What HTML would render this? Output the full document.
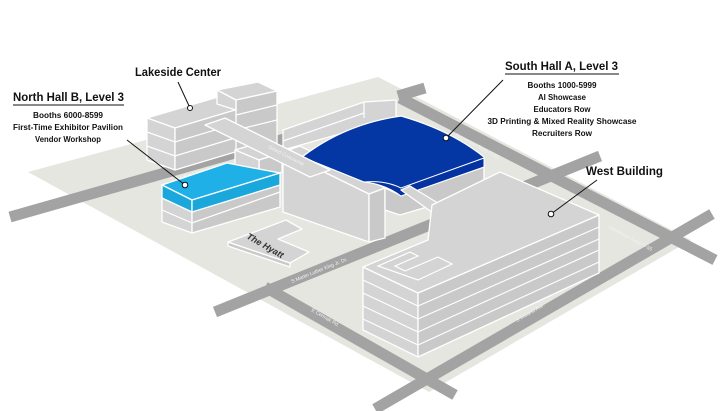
<!DOCTYPE html>
<html><head><meta charset="utf-8"><style>
html,body{margin:0;padding:0;background:#fff;}
svg{display:block;font-family:"Liberation Sans",sans-serif;}
.b{fill:#d4d4d4;stroke:#fff;stroke-width:1.3;stroke-linejoin:round;}
.s{fill:#c9c9c9;stroke:#fff;stroke-width:1.3;stroke-linejoin:round;}
.fl{stroke:#fff;stroke-width:1.2;fill:none;}
.rd{stroke:#a3a3a3;stroke-width:11;fill:none;}
.rl{fill:#f4f4f4;font-size:5px;}
.t{font-weight:bold;fill:#111;}
</style></head><body>
<svg width="720" height="411" viewBox="0 0 720 411">
<!-- ground -->
<polygon points="28,172 378,77 691,240 429,392" fill="#e4e6df"/>
<!-- roads -->
<line class="rd" x1="10" y1="217" x2="330" y2="126"/>
<line class="rd" x1="398" y1="96" x2="425" y2="88"/>
<line class="rd" x1="400" y1="98" x2="715" y2="260"/>
<line class="rd" x1="215" y1="312" x2="600" y2="156"/>
<line class="rd" x1="265" y1="287" x2="455" y2="395"/>
<line class="rd" x1="375" y1="409" x2="712" y2="214"/>
<text class="rl" transform="translate(176,180) rotate(-16)">S Lake Shore Dr.</text>
<text class="rl" transform="translate(455,136) rotate(28)">Stevenson Expy / I-55</text>
<text class="rl" transform="translate(608,228) rotate(28)">Stevenson Expy / I-55</text>
<text class="rl" transform="translate(292,283) rotate(-22)">S Martin Luther  King Jr. Dr.</text>
<text class="rl" transform="translate(311,311) rotate(30)">E Cermak Rd.</text>
<text class="rl" transform="translate(517,322) rotate(-30)">S Indiana Ave.</text>
<!-- Lakeside Center -->
<polygon class="b" points="147,118 218,97 245,107 175,128"/>
<polygon class="b" points="147,118 175,128 175,170 147,160"/>
<polygon class="s" points="175,128 245,107 245,149 175,170"/>
<path class="fl" d="M147,132 L175,142 L245,121 M147,146 L175,156 L245,135"/>
<polygon class="b" points="217,90 258,82 277,91 236,100"/>
<polygon class="s" points="236,100 277,91 277,150 236,160"/>
<polygon class="b" points="217,90 236,100 236,110 217,104"/>
<path class="fl" d="M236,115 L277,105 M236,130 L277,120"/>
<!-- annex -->
<polygon class="b" points="235,150 258,143 282,153 259,160"/>
<polygon class="s" points="259,160 282,153 282,172 259,180"/>
<polygon class="b" points="235,150 259,160 259,180 235,170"/>
<!-- north hall B -->
<polygon class="b" points="162,198 192,212 192,233 162,222"/>
<polygon class="s" points="192,212 280,177 280,207 192,233"/>
<path class="fl" d="M162,210 L192,223 L280,192"/>
<polygon points="162,185 227,163 280,173 192,200" fill="#1eb0e6" stroke="#fff" stroke-width="1.3"/>
<polygon points="162,185 192,200 192,212 162,198" fill="#1aa8dc" stroke="#fff" stroke-width="1.3"/>
<polygon points="192,200 280,173 280,185 192,212" fill="#1aa8dc" stroke="#fff" stroke-width="1.3"/>
<!-- curved wall building -->
<polygon class="b" points="283,130 364,102 396,100 396,118 283,150"/>
<path class="fl" d="M283,141 L364,113 M364,102 L364,118"/>
<!-- tall block -->
<polygon class="b" points="283,152 300,146 385,188 369,194"/>
<polygon class="b" points="283,152 369,194 369,242 283,212"/>
<polygon class="s" points="369,194 385,188 385,238 369,242"/>
<!-- South hall A gray base -->
<polygon class="s" points="385,188 400,195 484,167 484,190 400,215 385,210"/>
<!-- blue -->
<path d="M302,157 Q345,124 401,116 Q450,130 484,157 L484,167 L401,196 Q385,184 364,182 Z" fill="#0537a4" stroke="#fff" stroke-width="1.2"/>
<path d="M364,182 Q385,184 401,196 L484,167 L484,158 L401,188 Q385,180 364,182 Z" fill="#0432a0" stroke="#fff" stroke-width="1"/>
<!-- concourse -->
<polygon class="b" points="205,125 225,118 330,170 310,177"/>
<text class="rl" transform="translate(268,148) rotate(27)">Grand Concourse</text>
<!-- bridge -->
<polygon class="b" points="401,190 410,186 472,224 458,231"/>
<!-- Hyatt -->
<polygon class="s" points="228,242 290,263 290,267 228,246"/>
<polygon class="b" points="228,242 286,220 302,229 278,239 309,252 290,263"/>
<text transform="translate(246,238) rotate(30)" font-size="9" font-style="italic" font-weight="bold" fill="#333">The Hyatt</text>
<!-- West building -->
<polygon class="b" points="363,267 418,293 418,357 363,330"/>
<polygon class="s" points="418,293 599,215 599,273 418,357"/>
<path class="fl" d="M363,280 L418,306 L599,227 M363,293 L418,319 L599,239 M363,306 L418,332 L599,250 M363,319 L418,345 L599,262"/>
<polygon class="b" points="363,267 428,240 432,205 500,172 599,215 418,293"/>
<path class="fl" d="M378,266 L410,252 L418,256 L395,266 L405,271 L438,257 L452,264 L418,280 Z"/>
<!-- leaders -->
<g stroke="#111" stroke-width="1" fill="#fff">
<line x1="178" y1="82" x2="190" y2="108"/>
<line x1="127" y1="140" x2="185" y2="185"/>
<line x1="503" y1="80" x2="446" y2="138"/>
<line x1="597" y1="180" x2="551" y2="214"/>
<circle cx="190" cy="108" r="2.5"/>
<circle cx="185" cy="185" r="2.8"/>
<circle cx="446" cy="138" r="2.8"/>
<circle cx="551" cy="214" r="2.8"/>
</g>
<!-- labels -->
<text class="t" x="135" y="76" font-size="12" textLength="86" lengthAdjust="spacingAndGlyphs">Lakeside Center</text>
<text class="t" x="13" y="101" font-size="12" textLength="111" lengthAdjust="spacingAndGlyphs">North Hall B, Level 3</text>
<line x1="13" y1="105" x2="124" y2="105" stroke="#111" stroke-width="1"/>
<g class="t" font-size="8" text-anchor="middle">
<text x="68" y="118" textLength="70" lengthAdjust="spacingAndGlyphs">Booths 6000-8599</text>
<text x="68" y="130" textLength="110" lengthAdjust="spacingAndGlyphs">First-Time Exhibitor Pavilion</text>
<text x="68" y="142" textLength="66" lengthAdjust="spacingAndGlyphs">Vendor Workshop</text>
</g>
<text class="t" x="505" y="70" font-size="12" textLength="113" lengthAdjust="spacingAndGlyphs">South Hall A, Level 3</text>
<line x1="505" y1="74" x2="619" y2="74" stroke="#111" stroke-width="1"/>
<g class="t" font-size="8" text-anchor="middle">
<text x="562" y="88" textLength="69" lengthAdjust="spacingAndGlyphs">Booths 1000-5999</text>
<text x="562" y="100" textLength="48" lengthAdjust="spacingAndGlyphs">AI Showcase</text>
<text x="562" y="112" textLength="57" lengthAdjust="spacingAndGlyphs">Educators Row</text>
<text x="562" y="124" textLength="149" lengthAdjust="spacingAndGlyphs">3D Printing &amp; Mixed Reality Showcase</text>
<text x="562" y="136" textLength="60" lengthAdjust="spacingAndGlyphs">Recruiters Row</text>
</g>
<text class="t" x="586" y="175" font-size="12" textLength="77" lengthAdjust="spacingAndGlyphs">West Building</text>
</svg>
</body></html>
